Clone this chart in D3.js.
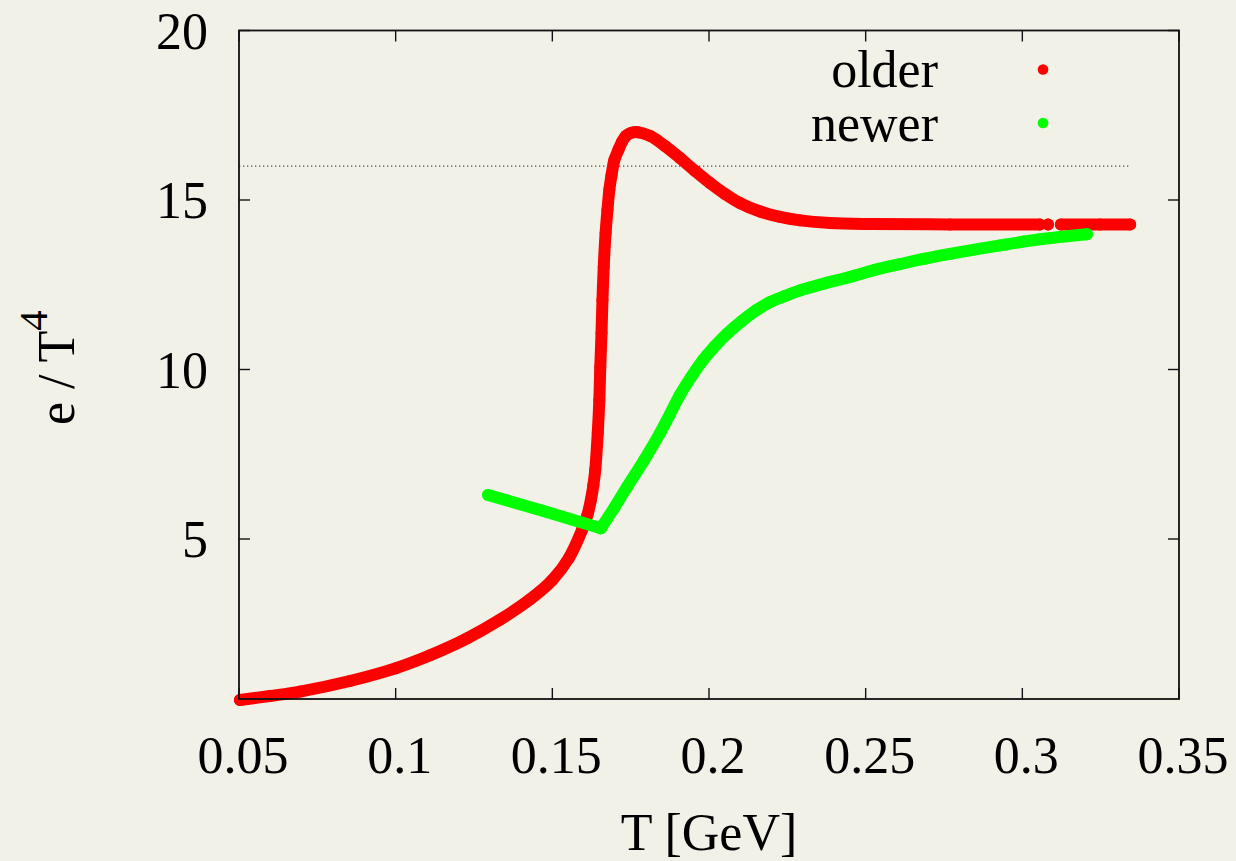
<!DOCTYPE html>
<html>
<head>
<meta charset="utf-8">
<script src="https://cdn.jsdelivr.net/npm/d3@7"></script>
<style>
  html, body { margin: 0; padding: 0; background: #f2f1e7; }
  svg { display: block; }
  text { font-family: "Liberation Serif", "Times New Roman", serif; fill: #000; }
</style>
</head>
<body>
<svg id="chart" width="1236" height="861"></svg>
<script>
// Energy density over T^4 versus temperature, two equation-of-state tables.
// null entries mark a gap in the tabulated points.
const olderT = [0.0503, 0.0599, 0.0695, 0.0854, 0.1001, 0.1110, 0.1228, 0.1333, 0.1429, 0.1499,
  0.1553, 0.1595, 0.1612, 0.1623, 0.1631, 0.1637, 0.1645, 0.1650, 0.1653, 0.1657,
  0.1660, 0.1664, 0.1670, 0.1676, 0.1682, 0.1689, 0.1698, 0.1711, 0.1722, 0.1735,
  0.1751, 0.1773, 0.1812, 0.1860, 0.1907, 0.1955, 0.2003, 0.2051, 0.2099, 0.2163,
  0.2227, 0.2290, 0.2386, 0.2514, 0.2769, 0.3056, null, 0.3082, null, 0.3123,
  0.3248, 0.3344];
const olderE = [0.25, 0.37, 0.50, 0.81, 1.19, 1.57, 2.07, 2.62, 3.22, 3.78,
  4.44, 5.27, 5.71, 6.15, 6.59, 7.04, 8.13, 9.10, 10.07, 11.08,
  12.05, 13.02, 14.03, 14.71, 15.30, 15.74, 16.18, 16.48, 16.71, 16.89,
  16.98, 17.00, 16.89, 16.59, 16.24, 15.86, 15.50, 15.18, 14.91, 14.66,
  14.50, 14.40, 14.32, 14.29, 14.28, 14.28, null, 14.28, null, 14.28,
  14.28, 14.28];

const newerT = [0.1295, 0.1477, 0.1655, 0.1697, 0.1738, 0.1793, 0.1844, 0.1876, 0.1907, 0.1943,
  0.1981, 0.2019, 0.2057, 0.2105, 0.2153, 0.2195, 0.2243, 0.2290, 0.2370, 0.2450,
  0.2530, 0.2610, 0.2689, 0.2769, 0.2929, 0.3056, 0.3206];
const newerE = [6.30, 5.81, 5.32, 5.91, 6.53, 7.33, 8.13, 8.69, 9.25, 9.78,
  10.28, 10.69, 11.05, 11.43, 11.76, 11.99, 12.17, 12.33, 12.54, 12.73,
  12.94, 13.11, 13.27, 13.41, 13.66, 13.84, 13.99];

const xTicks = [0.05, 0.1, 0.15, 0.2, 0.25, 0.3, 0.35];
const xTickLabels = ["0.05", "0.1", "0.15", "0.2", "0.25", "0.3", "0.35"];
const yTicks = [5, 10, 15, 20];
const yTickLabels = ["5", "10", "15", "20"];
const seriesNames = ["older", "newer"];
const seriesColors = ["#ff0000", "#00ff00"];
const refLevel = 16;
const xDomain = [0.05, 0.35];
const yDomain = [0.28, 20];

const svg = d3.select("#chart");
const plotL = 239, plotR = 1179, plotT = 30.5, plotB = 699;

const x = d3.scaleLinear().domain(xDomain).range([plotL, plotR]);
const y = d3.scaleLinear().domain(yDomain).range([plotB, plotT]);

const older = olderT.map((t, i) => ({ t, e: olderE[i] }));
const newer = newerT.map((t, i) => ({ t, e: newerE[i] }));

// horizontal dotted reference at e/T^4 = 16, spanning the older table's range
const tMax = d3.max(olderT);
svg.append("line")
  .attr("x1", x(xDomain[0])).attr("x2", x(tMax))
  .attr("y1", y(refLevel)).attr("y2", y(refLevel))
  .attr("stroke", "#222").attr("stroke-width", 1)
  .attr("stroke-dasharray", "1.3 2.7");

const ok = d => d.t != null && d.e != null;
const smooth = d3.line().defined(ok)
  .x(d => x(d.t)).y(d => y(d.e))
  .curve(d3.curveCatmullRom.alpha(0.5));
const straight = d3.line().defined(ok)
  .x(d => x(d.t)).y(d => y(d.e));

const R = 6;
function drawTrace(pieces, color) {
  const g = svg.append("g");
  pieces.forEach(([pts, gen]) => {
    g.append("path")
      .attr("d", gen(pts))
      .attr("fill", "none")
      .attr("stroke", color)
      .attr("stroke-width", 2 * R)
      .attr("stroke-linecap", "round")
      .attr("stroke-linejoin", "round");
  });
  const all = pieces.flatMap(p => p[0]).filter(ok);
  g.selectAll("circle").data(all).join("circle")
    .attr("cx", d => x(d.t)).attr("cy", d => y(d.e))
    .attr("r", R).attr("fill", color);
}

drawTrace([[older, smooth]], seriesColors[0]);

// the newer table has a sharp corner at its minimum: straight branch below, smooth above
const kink = d3.minIndex(newerE);
drawTrace([[newer.slice(0, kink + 1), straight], [newer.slice(kink), smooth]], seriesColors[1]);

// frame with inward ticks on all four sides
const tickLen = 11;
const axes = svg.append("g");
axes.append("rect")
  .attr("x", plotL).attr("y", plotT)
  .attr("width", plotR - plotL).attr("height", plotB - plotT)
  .attr("fill", "none").attr("stroke", "#111").attr("stroke-width", 1.8);

xTicks.forEach((v, i) => {
  const px = x(v);
  axes.append("line").attr("x1", px).attr("x2", px)
    .attr("y1", plotB).attr("y2", plotB - tickLen)
    .attr("stroke", "#111").attr("stroke-width", 1.4);
  axes.append("line").attr("x1", px).attr("x2", px)
    .attr("y1", plotT).attr("y2", plotT + tickLen)
    .attr("stroke", "#111").attr("stroke-width", 1.4);
  axes.append("text")
    .attr("x", px + 4).attr("y", plotB + 74)
    .attr("text-anchor", "middle")
    .attr("font-size", 52)
    .text(xTickLabels[i]);
});

yTicks.forEach((v, i) => {
  const py = y(v);
  axes.append("line").attr("x1", plotL).attr("x2", plotL + tickLen)
    .attr("y1", py).attr("y2", py)
    .attr("stroke", "#111").attr("stroke-width", 1.4);
  axes.append("line").attr("x1", plotR).attr("x2", plotR - tickLen)
    .attr("y1", py).attr("y2", py)
    .attr("stroke", "#111").attr("stroke-width", 1.4);
  axes.append("text")
    .attr("x", 208).attr("y", py + 18.5)
    .attr("text-anchor", "end")
    .attr("font-size", 52)
    .text(yTickLabels[i]);
});

// axis titles
svg.append("text")
  .attr("x", (plotL + plotR) / 2).attr("y", 850)
  .attr("text-anchor", "middle")
  .attr("font-size", 52)
  .text("T [GeV]");

const yTitle = svg.append("text")
  .attr("transform", "translate(74,425) rotate(-90)")
  .attr("text-anchor", "start")
  .attr("font-size", 52);
yTitle.append("tspan").text("e / T");
yTitle.append("tspan").attr("dy", -27).attr("font-size", 41).text("4");

// legend
const legend = svg.append("g");
seriesNames.forEach((name, k) => {
  const by = 87 + k * 53.5;
  legend.append("text")
    .attr("x", 938).attr("y", by)
    .attr("text-anchor", "end")
    .attr("font-size", 52)
    .text(name);
  legend.append("circle")
    .attr("cx", 1043).attr("cy", by - 17.5)
    .attr("r", 5.3).attr("fill", seriesColors[k]);
});
</script>
</body>
</html>
